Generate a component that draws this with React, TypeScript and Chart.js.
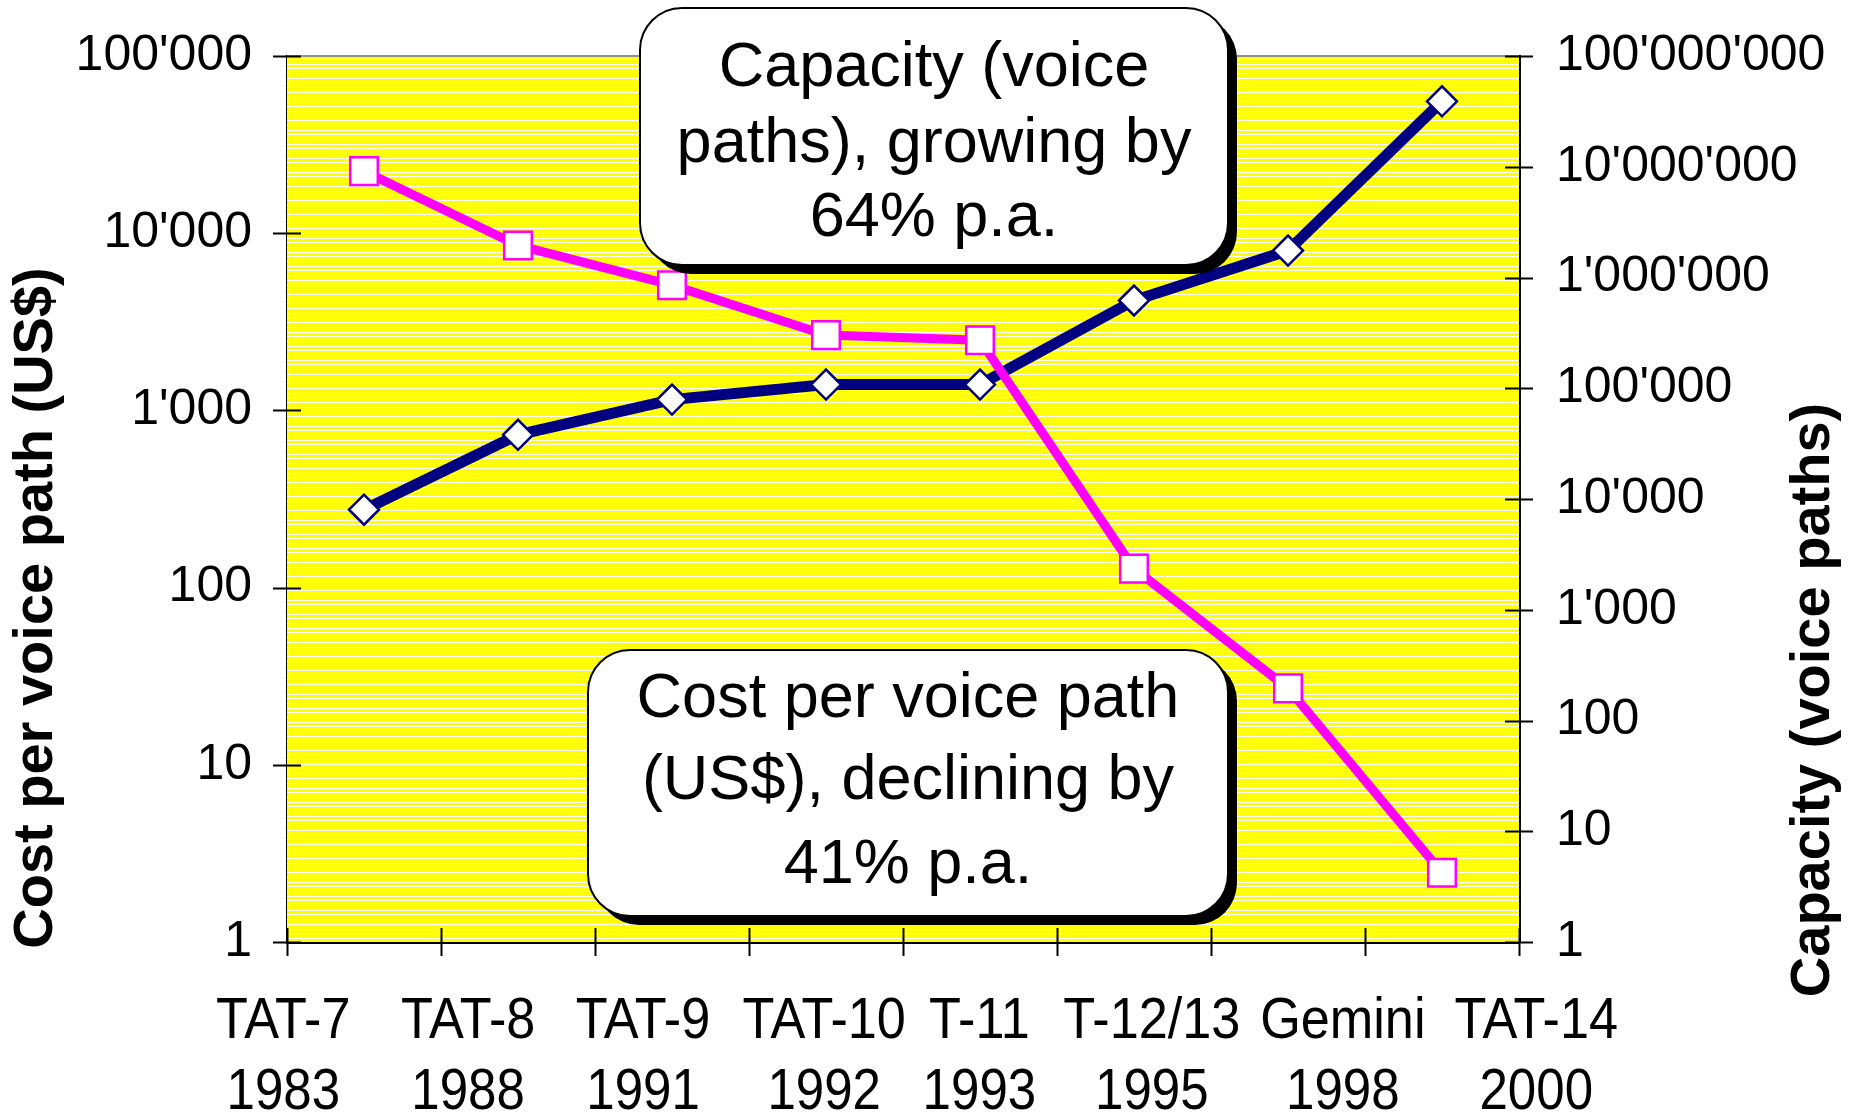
import React, { useEffect, useRef } from "react";
import { Chart, registerables } from "chart.js";

Chart.register(...registerables);

// Transatlantic cables and the year each entered service
const cables = ["TAT-7", "TAT-8", "TAT-9", "TAT-10", "T-11", "T-12/13", "Gemini", "TAT-14"];
const years = ["1983", "1988", "1991", "1992", "1993", "1995", "1998", "2000"];

// Cost per voice path (US$), left axis
const costPerPath = [22400, 8530, 5090, 2660, 2490, 128, 27, 2.46];
// Capacity (voice paths), right axis
const capacityPaths = [8000, 38000, 79000, 108000, 108000, 620000, 1750000, 39000000];

const costTicks = [1, 10, 100, 1000, 10000, 100000];
const capacityTicks = [1, 10, 100, 1000, 10000, 100000, 1000000, 10000000, 100000000];

const capacityNote = ["Capacity (voice", "paths), growing by", "64% p.a."];
const costNote = ["Cost per voice path", "(US$), declining by", "41% p.a."];

const leftTitle = "Cost per voice path (US$)";
const rightTitle = "Capacity (voice paths)";

const FONT = "'Liberation Sans', Arial, Helvetica, sans-serif";

// horizontal centre of each category caption, as a fraction of the plot width
const captionCentres = [-0.003, 0.147, 0.289, 0.436, 0.562, 0.702, 0.857, 1.014];

const withApostrophes = (v: number) =>
  String(Math.round(v)).replace(/\B(?=(\d{3})+(?!\d))/g, "'");

function roundedRect(ctx: CanvasRenderingContext2D, x: number, y: number, w: number, h: number, r: number) {
  ctx.beginPath();
  ctx.moveTo(x + r, y);
  ctx.lineTo(x + w - r, y);
  ctx.arcTo(x + w, y, x + w, y + r, r);
  ctx.lineTo(x + w, y + h - r);
  ctx.arcTo(x + w, y + h, x + w - r, y + h, r);
  ctx.lineTo(x + r, y + h);
  ctx.arcTo(x, y + h, x, y + h - r, r);
  ctx.lineTo(x, y + r);
  ctx.arcTo(x, y, x + r, y, r);
  ctx.closePath();
}

// yellow plot area with thin white horizontal hatching
const plotBackground = {
  id: "plotBackground",
  beforeDatasetsDraw(chart: any) {
    const { ctx, chartArea: a } = chart;
    ctx.save();
    ctx.fillStyle = "#FFFF00";
    ctx.fillRect(a.left, a.top, a.right - a.left, a.bottom - a.top);
    ctx.fillStyle = "#FFFFFF";
    for (let y = a.top + 3; y < a.bottom - 1; y += 4.7) {
      ctx.fillRect(a.left, Math.round(y), a.right - a.left, 1);
    }
    ctx.fillStyle = "#8f8f8f";
    ctx.fillRect(a.left, a.top - 1, a.right - a.left, 2);
    ctx.restore();
  },
};

// tick marks crossing the axes, category captions and axis titles
const axisDecor = {
  id: "axisDecor",
  afterDraw(chart: any) {
    const { ctx, chartArea: a, scales } = chart;
    const x = scales.x;
    const yL = scales.y;
    const yR = scales.y1;
    ctx.save();
    ctx.strokeStyle = "#000";
    ctx.lineWidth = 2;
    ctx.beginPath();
    for (const v of costTicks) {
      const py = Math.round(yL.getPixelForValue(v)) + 0.5;
      ctx.moveTo(a.left - 14, py);
      ctx.lineTo(a.left + 14, py);
    }
    for (const v of capacityTicks) {
      const py = Math.round(yR.getPixelForValue(v)) + 0.5;
      ctx.moveTo(a.right - 14, py);
      ctx.lineTo(a.right + 14, py);
    }
    for (let i = 0; i <= cables.length; i++) {
      const px = Math.round(x.getPixelForValue(i - 0.5)) + 0.5;
      ctx.moveTo(px, a.bottom - 14);
      ctx.lineTo(px, a.bottom + 14);
    }
    ctx.stroke();

    // category captions: cable name and year, slightly condensed
    ctx.fillStyle = "#000";
    ctx.font = `58px ${FONT}`;
    ctx.textAlign = "center";
    ctx.textBaseline = "alphabetic";
    const w = a.right - a.left;
    cables.forEach((name, i) => {
      const cx = a.left + captionCentres[i] * w;
      ctx.save();
      ctx.translate(cx, a.bottom + 96);
      ctx.scale(0.9, 1);
      ctx.fillText(name, 0, 0);
      ctx.restore();
      ctx.save();
      ctx.translate(cx, a.bottom + 167);
      ctx.scale(0.88, 1);
      ctx.fillText(years[i], 0, 0);
      ctx.restore();
    });

    // axis titles, reading bottom to top
    ctx.font = `bold 56px ${FONT}`;
    ctx.textBaseline = "middle";
    ctx.save();
    ctx.translate(37, 608);
    ctx.rotate(-Math.PI / 2);
    ctx.fillText(leftTitle, 0, 0);
    ctx.restore();
    ctx.save();
    ctx.translate(1814, 700);
    ctx.rotate(-Math.PI / 2);
    ctx.fillText(rightTitle, 0, 0);
    ctx.restore();
    ctx.restore();
  },
};

// rounded callout boxes with a hard drop shadow
const callouts = {
  id: "callouts",
  afterDraw(chart: any) {
    const { ctx } = chart;
    const boxes = [
      { x: 640, y: 8, w: 588, h: 257, lines: capacityNote, baselines: [86, 162, 236] },
      { x: 588, y: 650, w: 640, h: 266, lines: costNote, baselines: [717, 799, 883] },
    ];
    ctx.save();
    for (const b of boxes) {
      roundedRect(ctx, b.x + 9, b.y + 9, b.w, b.h, 42);
      ctx.fillStyle = "#000";
      ctx.fill();
      roundedRect(ctx, b.x, b.y, b.w, b.h, 42);
      ctx.fillStyle = "#fff";
      ctx.fill();
      ctx.lineWidth = 2;
      ctx.strokeStyle = "#000";
      ctx.stroke();
      ctx.fillStyle = "#000";
      ctx.font = `63px ${FONT}`;
      ctx.textAlign = "center";
      ctx.textBaseline = "alphabetic";
      b.lines.forEach((t, i) => ctx.fillText(t, b.x + b.w / 2, b.baselines[i]));
    }
    ctx.restore();
  },
};

export default function App() {
  const canvasRef = useRef<HTMLCanvasElement>(null);

  useEffect(() => {
    const chart = new Chart(canvasRef.current!, {
      type: "line",
      data: {
        labels: cables,
        datasets: [
          {
            label: "Cost per voice path (US$)",
            data: costPerPath,
            yAxisID: "y",
            borderColor: "#FF00FF",
            borderWidth: 9,
            pointStyle: "rect",
            pointRadius: 19.5,
            pointBackgroundColor: "#FFFFFF",
            pointBorderColor: "#FF00FF",
            pointBorderWidth: 2.5,
            tension: 0,
          },
          {
            label: "Capacity (voice paths)",
            data: capacityPaths,
            yAxisID: "y1",
            borderColor: "#000080",
            borderWidth: 11,
            pointStyle: "rectRot",
            pointRadius: 15,
            pointBackgroundColor: "#FFFFFF",
            pointBorderColor: "#000080",
            pointBorderWidth: 2.5,
            tension: 0,
          },
        ],
      },
      options: {
        animation: false,
        responsive: true,
        maintainAspectRatio: false,
        layout: { padding: { top: 56, left: 0, right: 0, bottom: 0 } },
        plugins: {
          legend: { display: false },
          tooltip: { enabled: false },
        },
        scales: {
          x: {
            type: "category",
            offset: true,
            grid: { display: false, drawTicks: false },
            border: { display: true, color: "#000", width: 3 },
            ticks: { display: false },
            afterFit: (s: any) => {
              s.height = 170;
              s.paddingLeft = 0;
              s.paddingRight = 0;
            },
          },
          y: {
            type: "logarithmic",
            position: "left",
            min: 1,
            max: 100000,
            grid: { display: false, drawTicks: false },
            border: { display: true, color: "#000", width: 3 },
            afterBuildTicks: (s: any) => {
              s.ticks = costTicks.map((v) => ({ value: v }));
            },
            ticks: {
              autoSkip: false,
              padding: 35,
              color: "#000",
              font: { family: FONT, size: 50 },
              callback: (v: any) => withApostrophes(Number(v)),
            },
            afterFit: (s: any) => {
              s.width = 287;
              s.paddingTop = 0;
              s.paddingBottom = 0;
            },
          },
          y1: {
            type: "logarithmic",
            position: "right",
            min: 1,
            max: 100000000,
            grid: { display: false, drawTicks: false },
            border: { display: true, color: "#000", width: 3 },
            afterBuildTicks: (s: any) => {
              s.ticks = capacityTicks.map((v) => ({ value: v }));
            },
            ticks: {
              autoSkip: false,
              padding: 37,
              color: "#000",
              font: { family: FONT, size: 50 },
              callback: (v: any) => withApostrophes(Number(v)),
            },
            afterFit: (s: any) => {
              s.width = 351;
              s.paddingTop = 0;
              s.paddingBottom = 0;
            },
          },
        },
      },
      plugins: [plotBackground, axisDecor, callouts],
    });
    return () => chart.destroy();
  }, []);

  return (
    <div style={{ position: "fixed", left: 0, top: 0, width: 1870, height: 1112, background: "#fff" }}>
      <canvas ref={canvasRef} />
    </div>
  );
}
